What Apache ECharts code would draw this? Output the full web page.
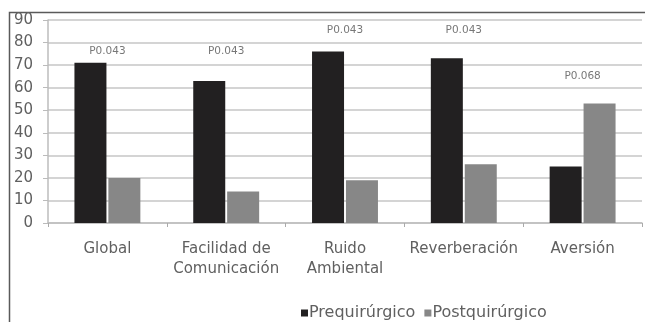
<!DOCTYPE html>
<html>
<head>
<meta charset="utf-8">
<script src="https://cdn.jsdelivr.net/npm/echarts@6/dist/echarts.min.js"></script>
<style>
html,body{margin:0;padding:0;background:#fff;}
#chart{width:645px;height:322px;}
</style>
</head>
<body>
<div id="chart"></div>
<script>
var categories = ['Global', 'Facilidad de\nComunicación', 'Ruido\nAmbiental', 'Reverberación', 'Aversión'];
var preValues = [71, 63, 76, 73, 25];
var postValues = [20, 14, 19, 26, 53];
var pLabels = ['P0.043', 'P0.043', 'P0.043', 'P0.043', 'P0.068'];
var pLabelY = [76, 76, 85.5, 85.5, 65];
var yTicks = [0, 10, 20, 30, 40, 50, 60, 70, 80, 90];

var font = 'DejaVu Sans';
var chart = echarts.init(document.getElementById('chart'), null, {renderer: 'canvas'});
chart.setOption({
  animation: false,
  backgroundColor: '#fff',
  textStyle: {fontFamily: font},
  graphic: [
    {type: 'polyline', shape: {points: [[9.5, 322], [9.5, 12.5], [645, 12.5]]},
     style: {stroke: '#5a5a5a', lineWidth: 1.5, fill: null}, silent: true}
  ],
  legend: {
    data: ['Prequirúrgico', 'Postquirúrgico'],
    left: 296, top: 300,
    icon: 'rect', itemWidth: 7, itemHeight: 7, itemGap: 9,
    textStyle: {fontFamily: font, fontSize: 16, color: '#606060', padding: [0, 0, 0, -4]}
  },
  grid: {left: 48, right: 3, top: 20, bottom: 99, containLabel: false},
  xAxis: {
    type: 'category',
    data: categories,
    axisLine: {lineStyle: {color: '#bdbdbd', width: 1.5}},
    axisTick: {show: true, length: 4, lineStyle: {color: '#aaa'}},
    axisLabel: {fontFamily: font, fontSize: 15, color: '#606060', margin: 16, lineHeight: 20, interval: 0},
    splitLine: {show: false}
  },
  yAxis: {
    type: 'value',
    min: yTicks[0], max: yTicks[yTicks.length - 1], interval: 10,
    axisLine: {show: true, lineStyle: {color: '#bdbdbd', width: 1.5}},
    axisTick: {show: true, length: 5, lineStyle: {color: '#bbb'}},
    axisLabel: {fontFamily: font, fontSize: 15, color: '#606060', margin: 15},
    splitLine: {show: true, lineStyle: {color: '#c6c6c6', width: 1.5}}
  },
  series: [
    {name: 'Prequirúrgico', type: 'bar', data: preValues, barWidth: 32, barGap: '6%',
     itemStyle: {color: '#222021'}},
    {name: 'Postquirúrgico', type: 'bar', data: postValues, barWidth: 32,
     itemStyle: {color: '#878787'}},
    {name: 'p', type: 'scatter', data: pLabelY, symbolSize: 0, silent: true,
     label: {show: true, position: 'inside',
       formatter: function (p) { return pLabels[p.dataIndex]; },
       fontFamily: font, fontSize: 10.5, color: '#555'}}
  ]
});
</script>
</body>
</html>
